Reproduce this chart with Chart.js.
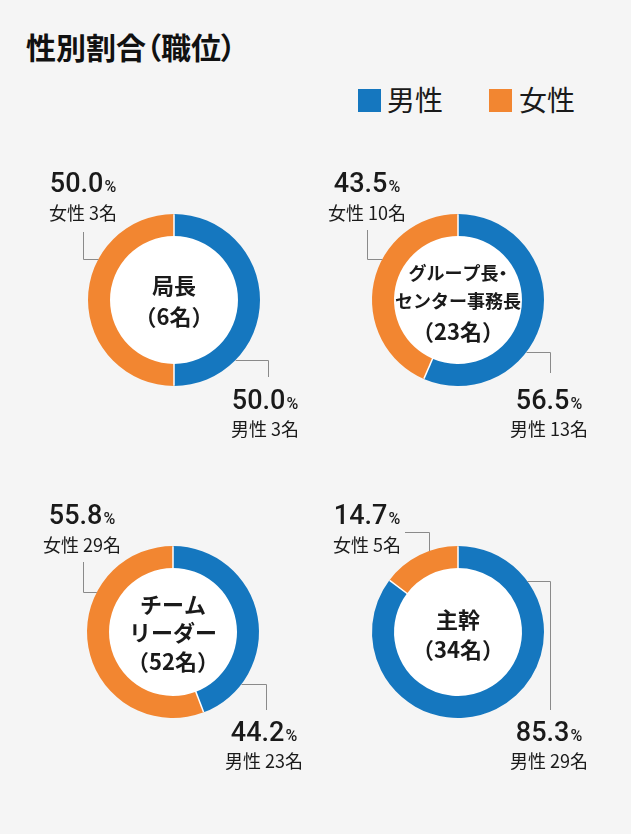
<!DOCTYPE html>
<html lang="ja">
<head>
<meta charset="utf-8">
<script src="https://cdn.jsdelivr.net/npm/chart.js@4.4.1/dist/chart.umd.min.js"></script>
<style>
  html, body { margin: 0; padding: 0; }
  body { width: 631px; height: 834px; background: #f5f5f5; position: relative; overflow: hidden;
         font-family: 'Noto Sans CJK JP', 'Noto Sans', sans-serif; color: #1a1a1a; }
  #title { position: absolute; left: 26px; top: 31px; font-size: 30px; line-height: 30px; font-weight: 700;
           font-feature-settings: 'palt'; white-space: nowrap; color: #111; }
  .lg-box { position: absolute; top: 89px; width: 23px; height: 23px; }
  .lg-txt { position: absolute; top: 85px; font-size: 28px; line-height: 28px; font-weight: 400; white-space: nowrap; }
  canvas { position: absolute; }
</style>
</head>
<body>
<div id="title">性別割合（職位）</div>
<div id="legend"></div>
<div id="charts"></div>
<script>
// ---- data ----
const seriesNames = ['男性', '女性'];
const categoryLines = [['局長'], ['グループ長・', 'センター事務長'], ['チーム', 'リーダー'], ['主幹']];
const malePct = [50.0, 56.5, 44.2, 85.3];
const femalePct = [50.0, 43.5, 55.8, 14.7];
const maleCount = [3, 13, 23, 29];
const femaleCount = [3, 10, 29, 5];
const seriesColors = ['#1577bf', '#f28631'];

// ---- layout (positions only) ----
const centers = [[174, 300], [458, 300], [173, 632], [458, 632]];
const centerLineY = [[-14.5, 17], [-26.5, 1.5, 32], [-27, 1, 30], [-12, 18]];
const centerLineSize = [[22, 22], [18, 18, 22], [22, 22, 22], [22, 22]];
const leaders = [
  { f: { kind: 'vh', x: -91, y0: -68, y1: -41 }, m: { kind: 'hv', y: 60, x: 94, y1: 77 } },
  { f: { kind: 'vh', x: -91, y0: -70, y1: -41 }, m: { kind: 'hv', y: 52, x: 92, y1: 73 } },
  { f: { kind: 'vh', x: -90, y0: -70, y1: -40 }, m: { kind: 'hv', y: 52, x: 93, y1: 78 } },
  { f: { kind: 'top', x0: -53, y: -100, x: -29 }, m: { kind: 'hv', y: -51, x: 92, y1: 78 } }
];

const CW = 320;

// legend
const legend = document.getElementById('legend');
[[358, 387], [489, 519]].forEach(([bx, tx], i) => {
  const b = document.createElement('div');
  b.className = 'lg-box'; b.style.left = bx + 'px'; b.style.background = seriesColors[i];
  const t = document.createElement('div');
  t.className = 'lg-txt'; t.style.left = tx + 'px'; t.textContent = seriesNames[i];
  legend.appendChild(b); legend.appendChild(t);
});

function drawPalt(ctx, text, cx, cy, size) {
  ctx.font = `700 ${size}px 'Noto Sans CJK JP'`;
  ctx.textBaseline = 'middle';
  ctx.textAlign = 'left';
  const parts = [];
  let total = 0;
  for (const ch of text) {
    const w = ctx.measureText(ch).width;
    let off = 0, adv = w;
    if (ch === '（') { off = -w / 2; adv = w / 2; }
    else if (ch === '）') { off = 0; adv = w / 2; }
    else if (ch === '・') { off = -w / 4; adv = w / 2; }
    parts.push({ ch, off, adv });
    total += adv;
  }
  let x = cx - total / 2;
  for (const p of parts) { ctx.fillText(p.ch, x + p.off, cy); x += p.adv; }
}

function drawLabel(ctx, lx, baseY, textMidY, pct, name, count) {
  const num = pct.toFixed(1);
  ctx.textBaseline = 'alphabetic';
  ctx.textAlign = 'left';
  ctx.font = "500 27px Roboto";
  const wN = ctx.measureText(num).width;
  ctx.font = "500 16px Roboto";
  const wP = ctx.measureText('%').width;
  const total = wN + 1 + wP;
  let x = lx - total / 2;
  ctx.fillStyle = '#1a1a1a';
  ctx.font = "500 27px Roboto";
  ctx.fillText(num, x, baseY);
  ctx.font = "500 16px Roboto";
  ctx.fillText('%', x + wN + 1, baseY);
  ctx.font = "400 18px 'Noto Sans CJK JP'";
  ctx.textAlign = 'center';
  ctx.textBaseline = 'middle';
  ctx.fillText(name + ' ' + count + '名', lx, textMidY);
}

const decor = {
  id: 'decor',
  beforeDatasetsDraw(chart) {
    const arc = chart.getDatasetMeta(0).data[0];
    const ctx = chart.ctx;
    ctx.save();
    ctx.fillStyle = '#ffffff';
    ctx.beginPath();
    ctx.arc(arc.x, arc.y, arc.innerRadius + 1, 0, Math.PI * 2);
    ctx.fill();
    ctx.restore();
  },
  afterDatasetsDraw(chart, args, opts) {
    const i = opts.index;
    const meta = chart.getDatasetMeta(0);
    const a0 = meta.data[0];
    const cx = a0.x, cy = a0.y, R = a0.outerRadius, r = a0.innerRadius;
    const ctx = chart.ctx;
    ctx.save();
    ctx.strokeStyle = '#ffffff';
    ctx.lineWidth = 1.5;
    meta.data.forEach(el => {
      const ang = el.startAngle;
      ctx.beginPath();
      ctx.moveTo(cx + Math.cos(ang) * (r - 1), cy + Math.sin(ang) * (r - 1));
      ctx.lineTo(cx + Math.cos(ang) * (R - 0.3), cy + Math.sin(ang) * (R - 0.3));
      ctx.stroke();
    });
    ctx.fillStyle = '#1a1a1a';
    const lines = categoryLines[i].concat(['（' + (maleCount[i] + femaleCount[i]) + '名）']);
    lines.forEach((t, k) => drawPalt(ctx, t, cx, cy + centerLineY[i][k], centerLineSize[i][k]));
    ctx.strokeStyle = '#8a8a8a';
    ctx.lineWidth = 1;
    const L = leaders[i];
    const px = v => Math.round(v) + 0.5;
    ctx.beginPath();
    if (L.f.kind === 'vh') {
      const ringX = cx - Math.sqrt(R * R - L.f.y1 * L.f.y1);
      ctx.moveTo(px(cx + L.f.x), cy + L.f.y0);
      ctx.lineTo(px(cx + L.f.x), px(cy + L.f.y1));
      ctx.lineTo(ringX, px(cy + L.f.y1));
    } else {
      const ringY = cy - Math.sqrt(R * R - L.f.x * L.f.x);
      ctx.moveTo(cx + L.f.x0, px(cy + L.f.y));
      ctx.lineTo(px(cx + L.f.x), px(cy + L.f.y));
      ctx.lineTo(px(cx + L.f.x), ringY);
    }
    {
      const ringX = cx + Math.sqrt(Math.max(R * R - L.m.y * L.m.y, 0));
      ctx.moveTo(ringX, px(cy + L.m.y));
      ctx.lineTo(px(cx + L.m.x), px(cy + L.m.y));
      ctx.lineTo(px(cx + L.m.x), cy + L.m.y1);
    }
    ctx.stroke();
    drawLabel(ctx, cx - 91, cy - 108.5, cy - 87, femalePct[i], seriesNames[1], femaleCount[i]);
    drawLabel(ctx, cx + 91, cy + 109, cy + 129.5, malePct[i], seriesNames[0], maleCount[i]);
    ctx.restore();
  }
};

const holder = document.getElementById('charts');
centers.forEach(([x, y], i) => {
  const c = document.createElement('canvas');
  c.width = CW; c.height = CW;
  c.style.width = CW + 'px'; c.style.height = CW + 'px';
  c.style.left = (x - CW / 2) + 'px';
  c.style.top = (y - CW / 2) + 'px';
  holder.appendChild(c);
  new Chart(c, {
    type: 'doughnut',
    data: {
      labels: seriesNames,
      datasets: [{
        data: [malePct[i], femalePct[i]],
        backgroundColor: seriesColors,
        borderWidth: 0
      }]
    },
    options: {
      responsive: false,
      animation: false,
      radius: 86,
      cutout: '74.4%',
      rotation: 0,
      events: [],
      plugins: {
        legend: { display: false },
        title: { display: false },
        tooltip: { enabled: false },
        decor: { index: i }
      }
    },
    plugins: [decor]
  });
});
</script>
</body>
</html>
